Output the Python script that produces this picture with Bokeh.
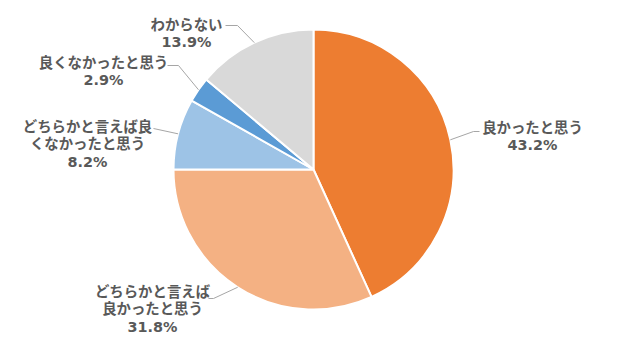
import math
from bokeh.plotting import figure
from bokeh.models import Range1d, ColumnDataSource
from bokeh.core.properties import value
from bokeh.embed import file_html
from bokeh.resources import INLINE

# ---- data ----
categories = ["良かったと思う", "どちらかと言えば良かったと思う", "どちらかと言えば良くなかったと思う",
              "良くなかったと思う", "わからない"]
values = [43.2, 31.8, 8.2, 2.9, 13.9]
colors = ["#ED7D31", "#F4B183", "#9DC3E6", "#5B9BD5", "#D9D9D9"]

# ---- layout (pixel coordinates, y down) ----
W, H = 630, 349
CX, CY, R = 313, 169, 140
wrap_at = [None, 8, 9, None, None]
label_x = [532, 152, 87, 103, 186]
label_top = [127, 291, 126, 62, 24]
line_step = [17, 17.5, 17.5, 17, 17]
leader_pts = [
    [(473, 131), (479, 131)],
    [(213, 298), (208, 298)],
    [(153, 128)],
    [(178, 65), (167, 65)],
    [(237, 25), (225, 25)],
]


def fy(py):
    return H - py


total = sum(values)
starts, ends, mids = [], [], []
cum = 0.0
for v in values:
    a0 = math.pi / 2 - 2 * math.pi * cum / total
    cum += v
    a1 = math.pi / 2 - 2 * math.pi * cum / total
    starts.append(a0)
    ends.append(a1)
    mids.append((a0 + a1) / 2)

p = figure(width=W, height=H, x_range=Range1d(0, W), y_range=Range1d(0, H),
           output_backend="svg", toolbar_location=None,
           min_border=0, min_border_left=0, min_border_right=0,
           min_border_top=0, min_border_bottom=0)
p.axis.visible = False
p.xgrid.visible = False
p.ygrid.visible = False
p.outline_line_color = None
p.background_fill_color = "white"
p.border_fill_color = "white"

src = ColumnDataSource(dict(start=starts, end=ends, color=colors,
                            x=[CX] * len(values), y=[fy(CY)] * len(values)))
p.wedge(x="x", y="y", radius=R, start_angle="start", end_angle="end",
        direction="clock", fill_color="color", line_color="white", line_width=2,
        source=src)

# leader lines
xs, ys = [], []
for i, m in enumerate(mids):
    ex = CX + R * math.cos(m)
    ey = fy(CY) + R * math.sin(m)
    px = [ex] + [pt[0] for pt in leader_pts[i]]
    py = [ey] + [fy(pt[1]) for pt in leader_pts[i]]
    xs.append(px)
    ys.append(py)
p.multi_line(xs=xs, ys=ys, line_color="#A6A6A6", line_width=1)

# labels
tx, ty, tt = [], [], []
for i, (c, v) in enumerate(zip(categories, values)):
    lines = [c] if wrap_at[i] is None else [c[:wrap_at[i]], c[wrap_at[i]:]]
    lines.append(f"{v:.1f}%")
    for j, ln in enumerate(lines):
        tx.append(label_x[i])
        ty.append(fy(label_top[i] + j * line_step[i]))
        tt.append(ln)
p.text(x=tx, y=ty, text=tt, text_align="center", text_baseline="middle",
       text_font=value("'DejaVu Sans', 'Noto Sans CJK JP'"), text_font_style="bold",
       text_font_size="14.4px", text_color="#595959")

open("out.html", "w").write(file_html(p, INLINE))
